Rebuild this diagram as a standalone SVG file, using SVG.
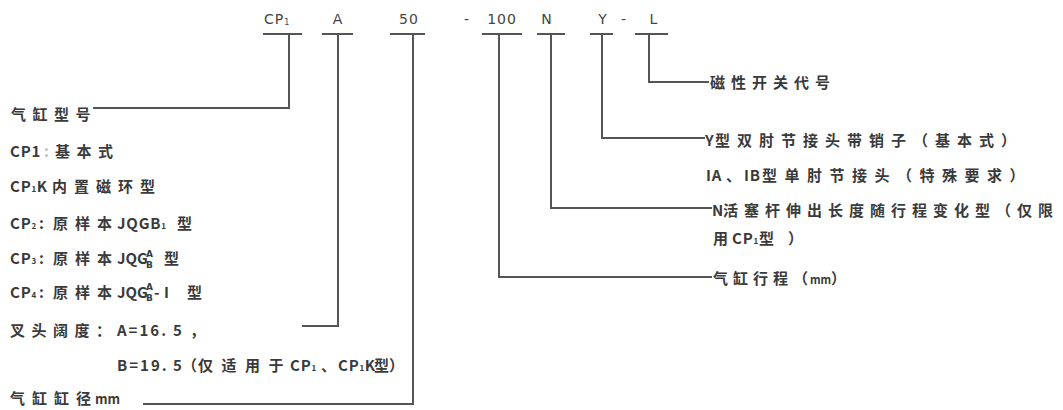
<svg xmlns="http://www.w3.org/2000/svg" width="1063" height="410" viewBox="0 0 1063 410">
<style>
.t{font-family:"Noto Sans CJK SC","Noto Sans",sans-serif;font-size:15px;font-weight:700;fill:#3a3a3a;letter-spacing:6.5px}
.l{letter-spacing:0.8px}
.s{font-size:8px;letter-spacing:0.5px}
.f{font-family:"DejaVu Sans","Liberation Sans",sans-serif;font-size:9px;font-weight:700;fill:#3a3a3a}
.z{letter-spacing:0}
.code{font-family:"DejaVu Sans","Liberation Sans",sans-serif;font-size:14px;fill:#444;letter-spacing:1px}
.cs{font-size:8px}
.ln{fill:none;stroke:#555;stroke-width:2}
</style>
<rect width="1063" height="410" fill="#fff"/>
<g id="codes">
  <g id="code-cp"><text class="code" x="264" y="24">CP<tspan class="cs" dy="1">1</tspan></text><line class="ln" x1="263" y1="34" x2="302" y2="34"/></g>
  <g id="code-a"><text class="code" x="338" y="24" text-anchor="middle">A</text><line class="ln" x1="322" y1="34" x2="353" y2="34"/></g>
  <g id="code-50"><text class="code" x="409" y="24" text-anchor="middle">50</text><line class="ln" x1="390" y1="34" x2="425" y2="34"/></g>
  <text class="code" x="467" y="24" text-anchor="middle">-</text>
  <g id="code-100"><text class="code" x="502" y="24" text-anchor="middle">100</text><line class="ln" x1="482" y1="34" x2="522" y2="34"/></g>
  <g id="code-n"><text class="code" x="547" y="24" text-anchor="middle">N</text><line class="ln" x1="537" y1="34" x2="565" y2="34"/></g>
  <g id="code-y"><text class="code" x="603" y="24" text-anchor="middle">Y</text><line class="ln" x1="590" y1="34" x2="613" y2="34"/></g>
  <text class="code" x="624" y="24" text-anchor="middle">-</text>
  <g id="code-l"><text class="code" x="654" y="24" text-anchor="middle">L</text><line class="ln" x1="635" y1="34" x2="668" y2="34"/></g>
</g>
<g id="connectors">
  <polyline class="ln" points="289,34 289,108 93,108"/>
  <polyline class="ln" points="338,34 338,326 302,326"/>
  <polyline class="ln" points="413,34 413,404 143,404"/>
  <polyline class="ln" points="499,34 499,277 712,277"/>
  <polyline class="ln" points="551,34 551,208 712,208"/>
  <polyline class="ln" points="602,34 602,138 705,138"/>
  <polyline class="ln" points="649,34 649,82 709,82"/>
</g>
<g id="model">
  <text class="t" x="11" y="120">气缸型号</text>
  <text class="t" y="157"><tspan class="l" x="10">CP1</tspan><tspan x="44" fill="#bbb">:</tspan><tspan x="55">基本式</tspan></text>
  <text class="t" y="192"><tspan class="l" x="10">CP</tspan><tspan class="s">1</tspan><tspan class="l">K</tspan><tspan x="52" style="letter-spacing:7px">内置磁环型</tspan></text>
  <text class="t" y="229"><tspan class="l" x="10">CP</tspan><tspan class="s">2</tspan><tspan class="z" x="39">:</tspan><tspan x="53" style="letter-spacing:7px">原样本</tspan><tspan class="l" x="117">JQGB</tspan><tspan class="s">1</tspan><tspan x="177">型</tspan></text>
  <text class="t" y="264"><tspan class="l" x="10">CP</tspan><tspan class="s">3</tspan><tspan class="z" x="39">:</tspan><tspan x="53" style="letter-spacing:7px">原样本</tspan><tspan class="z" x="117">JQG</tspan></text>
  <text class="f" x="146" y="257">A</text>
  <text class="f" x="146" y="268">B</text>
  <text class="t" x="164" y="264">型</text>
  <text class="t" y="298"><tspan class="l" x="10">CP</tspan><tspan class="s">4</tspan><tspan class="z" x="39">:</tspan><tspan x="53" style="letter-spacing:7px">原样本</tspan><tspan class="z" x="117">JQG</tspan></text>
  <text class="f" x="146" y="290">A</text>
  <text class="f" x="146" y="301">B</text>
  <text class="t" y="298"><tspan class="z" x="154">-</tspan><tspan class="z" x="164">I</tspan><tspan x="187">型</tspan></text>
</g>
<g id="width">
  <text class="t" y="336"><tspan x="10">叉头阔度</tspan><tspan class="z" x="96">：</tspan><tspan style="letter-spacing:2px" x="117">A=16.</tspan><tspan class="z" x="173">5</tspan><tspan class="z" x="190">，</tspan></text>
  <text class="t" y="371"><tspan style="letter-spacing:2px" x="117">B=19.</tspan><tspan class="z" x="173">5</tspan><tspan class="z" x="182">（</tspan><tspan x="198" style="letter-spacing:8.5px">仅适用于</tspan><tspan class="l" x="290">CP</tspan><tspan class="s">1</tspan><tspan class="z" x="321">、</tspan><tspan class="l" x="338">CP</tspan><tspan class="s">1</tspan><tspan class="l">K</tspan><tspan class="z" x="374">型）</tspan></text>
</g>
<g id="bore">
  <text class="t" y="404"><tspan x="10" style="letter-spacing:7px">气缸缸</tspan><tspan class="z" x="76">径</tspan><tspan class="z" x="95" style="font-size:13px">mm</tspan></text>
</g>
<g id="switch">
  <text class="t" x="710" y="88" style="letter-spacing:6px">磁性开关代号</text>
</g>
<g id="joint">
  <text class="t" y="146"><tspan class="l" x="705">Y</tspan><tspan x="715" style="letter-spacing:7px">型双肘节接头带销子（基本式）</tspan></text>
  <text class="t" y="181"><tspan class="l" x="706">IA</tspan><tspan class="z" x="726">、</tspan><tspan class="l" x="744">IB</tspan><tspan x="762" style="letter-spacing:7.5px">型单肘节接头（特殊要求）</tspan></text>
</g>
<g id="rod">
  <text class="t" y="216"><tspan class="z" x="712">N</tspan><tspan x="723" style="letter-spacing:6px">活塞杆伸出长度随行程变化型（仅限</tspan></text>
  <text class="t" y="244"><tspan class="z" x="713">用</tspan><tspan class="l" x="732">CP</tspan><tspan class="s">1</tspan><tspan class="z" x="759">型</tspan><tspan class="z" x="788">）</tspan></text>
</g>
<g id="stroke">
  <text class="t" y="284"><tspan x="713" style="letter-spacing:5px">气缸行程</tspan><tspan class="z" x="793">（</tspan><tspan class="z" x="810" style="font-size:11px">mm</tspan><tspan class="z" x="831">）</tspan></text>
</g>
</svg>
